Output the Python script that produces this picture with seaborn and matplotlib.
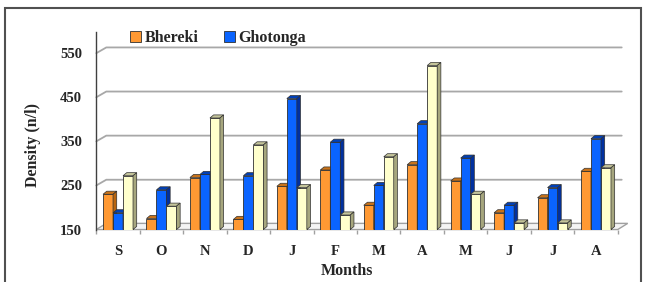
import matplotlib
matplotlib.use('Agg')
import matplotlib.pyplot as plt
import seaborn as sns
import pandas as pd
from matplotlib.patches import Polygon, Rectangle

# datos
meses = ['S', 'O', 'N', 'D', 'J', 'F', 'M', 'A', 'M', 'J', 'J', 'A']
bhereki = [230, 175, 268, 173, 248, 285, 205, 297, 260, 188, 222, 282]
ghotonga = [188, 240, 275, 272, 447, 348, 250, 390, 312, 205, 245, 356]
tercero = [272, 203, 403, 342, 245, 183, 315, 522, 230, 165, 165, 290]
series = ['Bhereki', 'Ghotonga', 'Other']
ticks_y = [150, 250, 350, 450, 550]

colores = {'Bhereki': '#FF9933', 'Ghotonga': '#0A64FF', 'Other': '#FFFFCC'}
lados = {'Bhereki': '#B8650F', 'Ghotonga': '#0030A0', 'Other': '#A6A67E'}
techos = {'Bhereki': '#C9731A', 'Ghotonga': '#0040B8', 'Other': '#C4C49A'}

filas = []
for i in range(len(meses)):
    for nombre, vals in zip(series, [bhereki, ghotonga, tercero]):
        filas.append({'idx': i, 'serie': nombre, 'valor': vals[i]})
df = pd.DataFrame(filas)

sns.set_style('white')
plt.rcParams['font.family'] = ['Liberation Serif', 'DejaVu Serif']
plt.rcParams['font.weight'] = 'bold'

fig = plt.figure(figsize=(6.45, 2.82), dpi=100)
ax = fig.add_axes([0.1493, 0.186, 0.8084, 0.7005])

sns.barplot(ax=ax, data=df, x='idx', y='valor', hue='serie', hue_order=series,
            palette=colores, width=0.69, gap=0, edgecolor='#303030', linewidth=0.6,
            saturation=1)

ymin, ymax = 150, 598
xmin, xmax = -0.5, 11.5
ax.set_xlim(xmin, xmax)
ax.set_ylim(ymin, ymax)

# profundidad de las barras (efecto 3D)
dx, dy = 0.085, 7
barras = []
for cont, nombre in zip(ax.containers, series):
    for p in cont.patches:
        barras.append((p.get_x(), p, nombre))
barras.sort(key=lambda t: t[0])
for k, (x, p, nombre) in enumerate(barras):
    z = 2 + k * 0.01
    w = p.get_width()
    h = p.get_height()
    p.set_zorder(z)
    techo = Polygon([(x, h), (x + w, h), (x + w + dx, h + dy), (x + dx, h + dy)],
                    closed=True, facecolor=techos[nombre], edgecolor='#303030', lw=0.5, zorder=z)
    lado = Polygon([(x + w, ymin), (x + w + dx, ymin + dy), (x + w + dx, h + dy), (x + w, h)],
                   closed=True, facecolor=lados[nombre], edgecolor='#303030', lw=0.5, zorder=z)
    ax.add_patch(techo)
    ax.add_patch(lado)

# lineas de grilla con quiebre de perspectiva
gdx, gdy = 0.23, 13
for v in ticks_y[1:]:
    ax.plot([xmin, xmin + gdx, xmax + gdx * 0.4], [v, v + gdy, v + gdy],
            color='#A8A8A8', lw=1.3, zorder=0.5, clip_on=False)

# piso
piso = Polygon([(xmin, ymin), (xmax, ymin), (xmax + gdx, ymin + 14), (xmin + gdx, ymin + 14)],
               closed=True, facecolor='#F4F4F4', edgecolor='#A0A0A0', lw=1.0, zorder=0.6, clip_on=False)
ax.add_patch(piso)

for lado_s in ['top', 'right', 'bottom']:
    ax.spines[lado_s].set_visible(False)
ax.spines['left'].set_color('#404040')
ax.spines['left'].set_linewidth(1.0)

ax.set_yticks(ticks_y)
ax.set_yticklabels([str(t) for t in ticks_y], fontsize=10.5, fontweight='bold')
ax.tick_params(axis='y', length=3.3, width=0.9, color='#404040', pad=7)

ax.set_xticks(range(len(meses)))
ax.set_xticklabels(meses, fontsize=10.5, fontweight='bold')
ax.set_xticks([i - 0.5 for i in range(len(meses) + 1)], minor=True)
ax.tick_params(axis='x', which='major', length=0, pad=11)
ax.tick_params(axis='x', which='minor', length=3, width=1, color='#A0A0A0', direction='out', bottom=True)

ax.set_xlabel('Months', fontsize=11.5, fontweight='bold')
ax.xaxis.set_label_coords(0.481, -0.21)
ax.xaxis.label.set_va('center')
ax.set_ylabel('Density (n/l)', fontsize=11.5, fontweight='bold')
ax.yaxis.set_label_coords(-0.121, 0.428)
ax.yaxis.label.set_va('center')

handles, labels = ax.get_legend_handles_labels()
ax.legend(handles[:2], labels[:2], ncol=2, frameon=False, loc='center left',
          bbox_to_anchor=(130 / 645, 1 - 38 / 282), bbox_transform=fig.transFigure,
          borderaxespad=0, borderpad=0, handlelength=0.7, handleheight=0.7,
          handletextpad=0.2, columnspacing=1.6, prop={'size': 11.5, 'weight': 'bold'})

# marco exterior
fig.patches.append(Rectangle((5 / 645, -0.05), 636 / 645, 1 - 8 / 282 + 0.05,
                             transform=fig.transFigure, fill=False, edgecolor='#505050', lw=1.5))

fig.savefig('out.png', dpi=100)
